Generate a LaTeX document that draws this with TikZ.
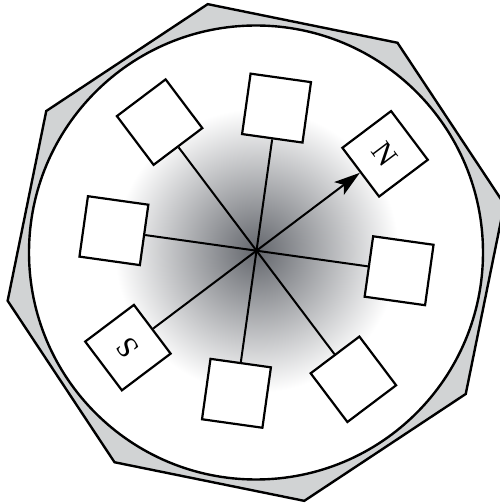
\documentclass[tikz,border=0pt]{standalone}
\usepackage{tikz}
\usetikzlibrary{arrows.meta}
\usepackage{fontspec}
\setmainfont{Liberation Serif}
\definecolor{rimgray}{RGB}{209,211,212}
\definecolor{hubgray}{RGB}{100,103,109}

\begin{document}
\begin{tikzpicture}[x=1pt, y=1pt,
    sq/.style={rectangle, draw, fill=white, line width=2.2pt, minimum size=61pt, inner sep=0pt, font={\fontsize{30pt}{30pt}\selectfont}},
    spoke/.style={line width=2pt},
    arrow/.style={-{Stealth[length=26pt, width=16pt, inset=6pt]}, line width=2pt},
]
    \useasboundingbox (0,0) rectangle (500,504);
    \coordinate (ctr) at (256,251.5);
    \coordinate (hub) at (256.5,253.3);

    % rim and dial
    \draw[shift={(ctr)}, line width=2.4pt, fill=rimgray]
        (11:253) -- (56:253) -- (101:253) -- (146:253) -- (191:253) -- (236:253) -- (281:253) -- (326:253) -- cycle;
    \fill[white] (ctr) circle (227);
    \shade[inner color=hubgray, outer color=white] (hub) circle (142);
    \draw[line width=2.4pt] (ctr) circle (227);

    % squares
    \node[sq, rotate=-8] (topsq) at ([shift={(82:144)}]hub) {};
    \node[sq, rotate=-53] (nsq) at ([shift={(37:161)}]hub) {N};
    \node[sq, rotate=-8] (rightsq) at ([shift={(-8:144)}]hub) {};
    \node[sq, rotate=-53] (sesq) at ([shift={(-53:161)}]hub) {};
    \node[sq, rotate=-8] (botsq) at ([shift={(-98:144)}]hub) {};
    \node[sq, rotate=127] (ssq) at ([shift={(217:161)}]hub) {S};
    \node[sq, rotate=-8] (leftsq) at ([shift={(172:144)}]hub) {};
    \node[sq, rotate=-53] (nwsq) at ([shift={(127:161)}]hub) {};

    \draw[spoke] (hub) -- (topsq);
    \draw[spoke] (hub) -- (rightsq);
    \draw[spoke] (hub) -- (sesq);
    \draw[spoke] (hub) -- (botsq);
    \draw[spoke] (hub) -- (ssq);
    \draw[spoke] (hub) -- (leftsq);
    \draw[spoke] (hub) -- (nwsq);
    \draw[arrow] (hub) -- (nsq);
\end{tikzpicture}
\end{document}
